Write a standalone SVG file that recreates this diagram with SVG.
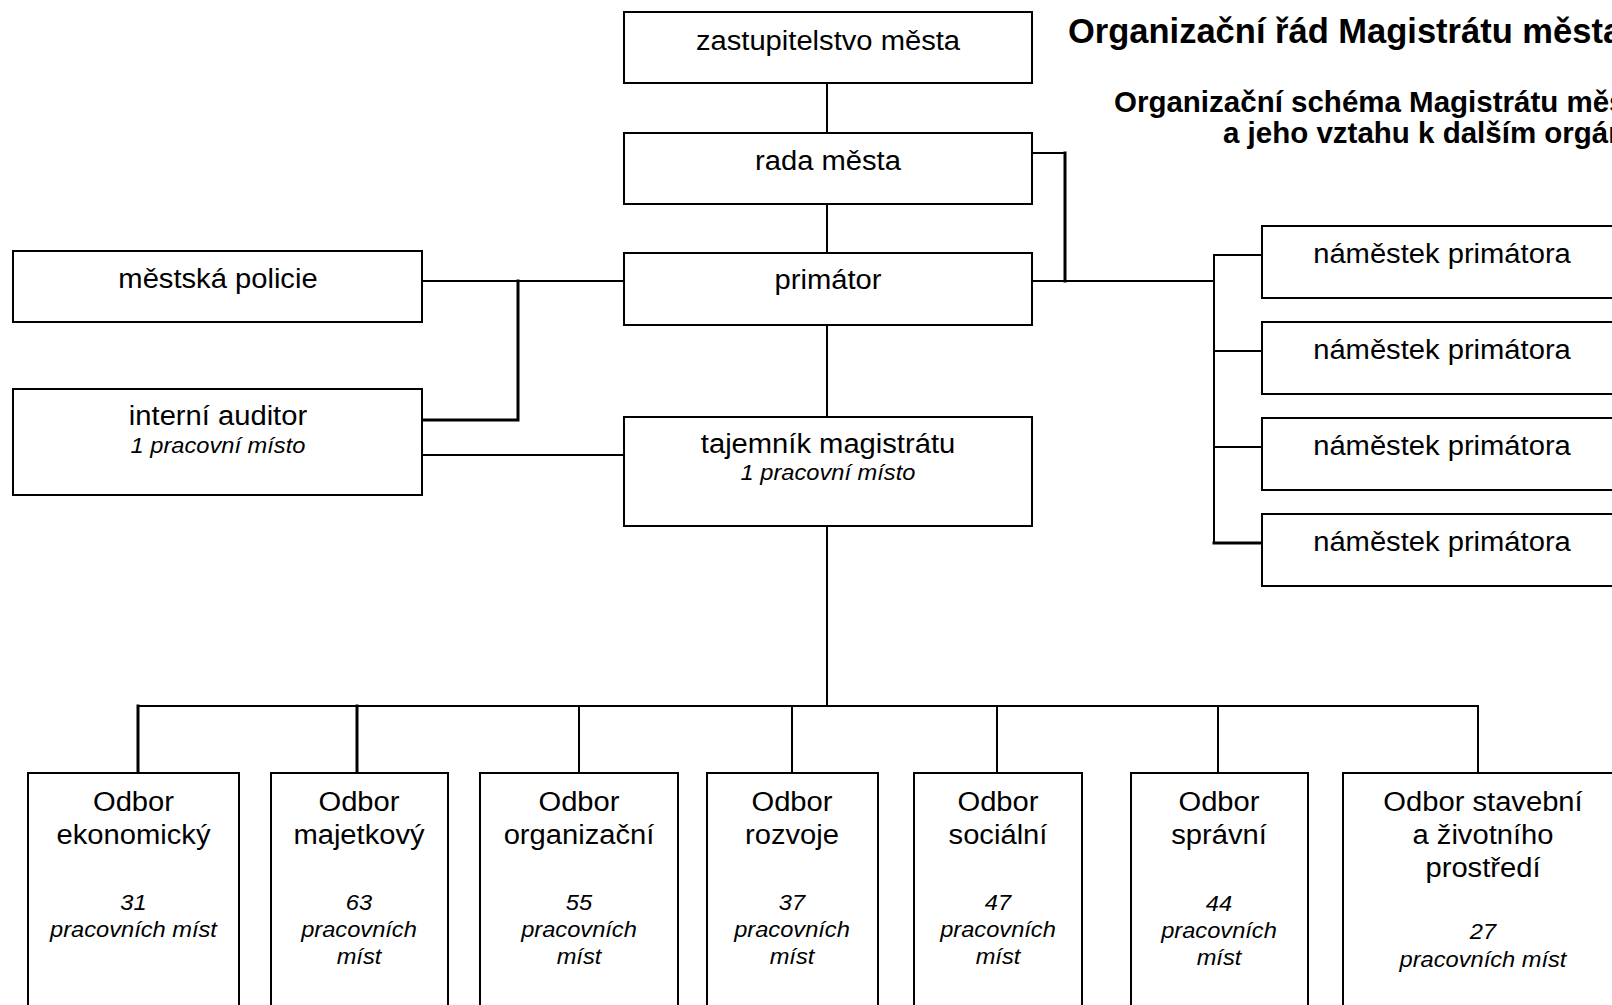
<svg xmlns="http://www.w3.org/2000/svg" width="1612" height="1005" viewBox="0 0 1612 1005">
<style>
.box{fill:#fff;stroke:#000;stroke-width:2}
.c{stroke:#000;stroke-width:2;fill:none;stroke-linecap:square}
.k{stroke-width:3}
text{font-family:"Liberation Sans",Arial,sans-serif;fill:#000}
.n{font-size:27px;text-anchor:middle}
.i{font-size:21.5px;font-style:italic;text-anchor:middle}
.h1{font-size:34.5px;font-weight:bold}
.h2{font-size:29.5px;font-weight:bold}
</style>
<rect width="1612" height="1005" fill="#fff"/>
<g id="title">
<text class="h1" x="1068" y="43">Organizační řád Magistrátu města</text>
<text class="h2" x="1114" y="112">Organizační schéma Magistrátu města</text>
<text class="h2" x="1223" y="143">a jeho vztahu k dalším orgánům</text>
</g>
<g id="connectors">
<path class="c" d="M827 83V133M827 204V253M827 325V417M827 526V706"/>
<path class="c" d="M138 706H1478"/>
<path class="c k" d="M138 706V773M357 706V773"/>
<path class="c" d="M579 706V773M792 706V773M997 706V773M1218 706V773M1478 706V773"/>
<path class="c" d="M422 281H624"/>
<path class="c k" d="M518 281V420H422"/>
<path class="c" d="M422 455H624"/>
<path class="c" d="M1032 153H1065"/>
<path class="c k" d="M1065 153V281"/>
<path class="c" d="M1032 281H1214M1214 255V543M1214 255H1262M1214 351H1262M1214 447H1262"/>
<path class="c k" d="M1214 543H1262"/>
</g>
<g id="zastupitelstvo"><rect class="box" x="624" y="12" width="408" height="71"/><text class="n" transform="translate(828 50) scale(1.08 1)">zastupitelstvo města</text></g>
<g id="rada"><rect class="box" x="624" y="133" width="408" height="71"/><text class="n" transform="translate(828 170) scale(1.08 1)">rada města</text></g>
<g id="primator"><rect class="box" x="624" y="253" width="408" height="72"/><text class="n" transform="translate(828 289) scale(1.08 1)">primátor</text></g>
<g id="tajemnik"><rect class="box" x="624" y="417" width="408" height="109"/><text class="n" transform="translate(828 453) scale(1.08 1)">tajemník magistrátu</text><text class="i" transform="translate(828 480) scale(1.1 1)">1 pracovní místo</text></g>
<g id="policie"><rect class="box" x="13" y="251" width="409" height="71"/><text class="n" transform="translate(218 288) scale(1.08 1)">městská policie</text></g>
<g id="auditor"><rect class="box" x="13" y="389" width="409" height="106"/><text class="n" transform="translate(218 425) scale(1.08 1)">interní auditor</text><text class="i" transform="translate(218 453) scale(1.1 1)">1 pracovní místo</text></g>
<g id="namestek1"><rect class="box" x="1262" y="226" width="380" height="72"/><text class="n" transform="translate(1442 263) scale(1.08 1)">náměstek primátora</text></g>
<g id="namestek2"><rect class="box" x="1262" y="322" width="380" height="72"/><text class="n" transform="translate(1442 359) scale(1.08 1)">náměstek primátora</text></g>
<g id="namestek3"><rect class="box" x="1262" y="418" width="380" height="72"/><text class="n" transform="translate(1442 455) scale(1.08 1)">náměstek primátora</text></g>
<g id="namestek4"><rect class="box" x="1262" y="514" width="380" height="72"/><text class="n" transform="translate(1442 551) scale(1.08 1)">náměstek primátora</text></g>
<g id="odbor-ekonomicky"><rect class="box" x="28" y="773" width="211" height="250"/>
<text class="n" transform="translate(133.5 811) scale(1.08 1)">Odbor</text><text class="n" transform="translate(133.5 844) scale(1.08 1)">ekonomický</text>
<text class="i" transform="translate(133.5 910) scale(1.1 1)">31</text><text class="i" transform="translate(133.5 937) scale(1.1 1)">pracovních míst</text></g>
<g id="odbor-majetkovy"><rect class="box" x="271" y="773" width="177" height="250"/>
<text class="n" transform="translate(359 811) scale(1.08 1)">Odbor</text><text class="n" transform="translate(359 844) scale(1.08 1)">majetkový</text>
<text class="i" transform="translate(359 910) scale(1.1 1)">63</text><text class="i" transform="translate(359 937) scale(1.1 1)">pracovních</text><text class="i" transform="translate(359 964) scale(1.1 1)">míst</text></g>
<g id="odbor-organizacni"><rect class="box" x="480" y="773" width="198" height="250"/>
<text class="n" transform="translate(579 811) scale(1.08 1)">Odbor</text><text class="n" transform="translate(579 844) scale(1.08 1)">organizační</text>
<text class="i" transform="translate(579 910) scale(1.1 1)">55</text><text class="i" transform="translate(579 937) scale(1.1 1)">pracovních</text><text class="i" transform="translate(579 964) scale(1.1 1)">míst</text></g>
<g id="odbor-rozvoje"><rect class="box" x="707" y="773" width="171" height="250"/>
<text class="n" transform="translate(792 811) scale(1.08 1)">Odbor</text><text class="n" transform="translate(792 844) scale(1.08 1)">rozvoje</text>
<text class="i" transform="translate(792 910) scale(1.1 1)">37</text><text class="i" transform="translate(792 937) scale(1.1 1)">pracovních</text><text class="i" transform="translate(792 964) scale(1.1 1)">míst</text></g>
<g id="odbor-socialni"><rect class="box" x="914" y="773" width="168" height="250"/>
<text class="n" transform="translate(998 811) scale(1.08 1)">Odbor</text><text class="n" transform="translate(998 844) scale(1.08 1)">sociální</text>
<text class="i" transform="translate(998 910) scale(1.1 1)">47</text><text class="i" transform="translate(998 937) scale(1.1 1)">pracovních</text><text class="i" transform="translate(998 964) scale(1.1 1)">míst</text></g>
<g id="odbor-spravni"><rect class="box" x="1131" y="773" width="177" height="250"/>
<text class="n" transform="translate(1219 811) scale(1.08 1)">Odbor</text><text class="n" transform="translate(1219 844) scale(1.08 1)">správní</text>
<text class="i" transform="translate(1219 911) scale(1.1 1)">44</text><text class="i" transform="translate(1219 938) scale(1.1 1)">pracovních</text><text class="i" transform="translate(1219 965) scale(1.1 1)">míst</text></g>
<g id="odbor-stavebni"><rect class="box" x="1343" y="773" width="290" height="250"/>
<text class="n" transform="translate(1483 811) scale(1.08 1)">Odbor stavební</text><text class="n" transform="translate(1483 844) scale(1.08 1)">a životního</text><text class="n" transform="translate(1483 877) scale(1.08 1)">prostředí</text>
<text class="i" transform="translate(1483 939) scale(1.1 1)">27</text><text class="i" transform="translate(1483 967) scale(1.1 1)">pracovních míst</text></g>
</svg>
